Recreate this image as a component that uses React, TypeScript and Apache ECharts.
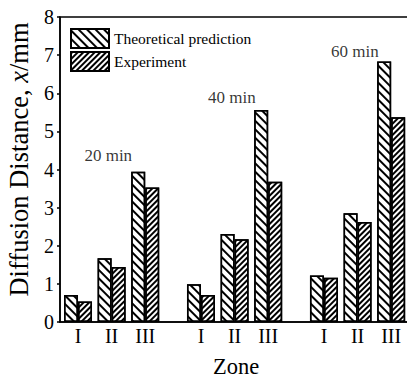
import React, { useEffect, useRef } from "react";
import * as echarts from "echarts";

const zones = ["I", "II", "III", "I", "II", "III", "I", "II", "III"];
// positions of the zone slots along the x axis (data units; one slot = 1)
const zonePositions = [1, 2, 3, 4.66, 5.66, 6.66, 8.32, 9.32, 10.32];
const theoretical = [0.71, 1.67, 3.94, 0.99, 2.31, 5.56, 1.22, 2.85, 6.83];
const experiment = [0.54, 1.44, 3.53, 0.71, 2.17, 3.68, 1.16, 2.62, 5.37];
const groupNames = ["20 min", "40 min", "60 min"];
const groupLabelX = [1.9, 5.58, 9.24];
const groupLabelY = [4.38, 5.9, 7.09];
const yTicks = [0, 1, 2, 3, 4, 5, 6, 7, 8];

const FONT = "Liberation Serif";

export default function App() {
  const ref = useRef<HTMLDivElement>(null);
  useEffect(() => {
    if (!ref.current) return;
    const chart = echarts.init(ref.current, undefined, { renderer: "svg" });
    const option: any = {
      animation: false,
      backgroundColor: "#fff",
      textStyle: { fontFamily: FONT, color: "#000" },
      grid: {
        left: 60,
        top: 17,
        right: -5,
        bottom: 56,
        containLabel: false,
        outerBoundsMode: "none",
        show: true,
        borderColor: "#000",
        borderWidth: 1.5,
        backgroundColor: "transparent",
      },
      legend: {
        data: ["Theoretical prediction", "Experiment"],
        orient: "vertical",
        left: 70,
        top: 28,
        padding: 0,
        itemWidth: 38,
        itemHeight: 19,
        itemGap: 2,
        icon: "rect",
        textStyle: {
          fontFamily: FONT,
          fontSize: 15.5,
          color: "#000",
        },
      },
      xAxis: {
        type: "value",
        min: 0.464,
        max: 10.94,
        name: "Zone",
        nameLocation: "middle",
        nameGap: 33,
        nameTextStyle: { fontFamily: FONT, fontSize: 22.5, color: "#000" },
        axisLine: { show: true, onZero: false, lineStyle: { color: "#000", width: 1.5 } },
        axisTick: { show: false },
        splitLine: { show: false },
        axisLabel: {
          customValues: zonePositions,
          formatter: (v: number) => {
            const i = zonePositions.findIndex((p) => Math.abs(p - v) < 1e-6);
            return i >= 0 ? zones[i] : "";
          },
          fontFamily: FONT,
          fontSize: 20,
          color: "#000",
          margin: 4,
        },
      },
      yAxis: {
        type: "value",
        min: 0,
        max: 8,
        interval: 1,
        name: "Diffusion Distance, {i|x}/mm",
        nameLocation: "middle",
        nameGap: 28,
        nameTextStyle: {
          fontFamily: FONT,
          fontSize: 26.5,
          color: "#000",
          padding: [0, 0, 0, 20],
          rich: { i: { fontFamily: FONT, fontSize: 26.5, fontStyle: "italic", color: "#000" } },
        },
        axisLine: { show: true, lineStyle: { color: "#000", width: 1.5 } },
        axisTick: { show: true, inside: false, length: 3, lineStyle: { color: "#000", width: 1.5 } },
        splitLine: { show: false },
        axisLabel: {
          fontFamily: FONT,
          fontSize: 20,
          color: "#000",
          margin: 6,
          formatter: (v: number) => (yTicks.includes(v) ? String(v) : ""),
        },
      },
      series: [
        {
          name: "Theoretical prediction",
          type: "bar",
          barWidth: 14,
          barGap: "0%",
          data: zonePositions.map((p, i) => [p, theoretical[i]]),
          itemStyle: {
            color: "#fff",
            borderColor: "#000",
            borderWidth: 1.5,
            decal: {
              symbol: "rect",
              symbolSize: 1,
              color: "#000",
              dashArrayX: [1, 0],
              dashArrayY: [1.8, 3.8],
              rotation: Math.PI / 4,
            },
          },
        },
        {
          name: "Experiment",
          type: "bar",
          barWidth: 14,
          barGap: "0%",
          data: zonePositions.map((p, i) => [p, experiment[i]]),
          itemStyle: {
            color: "#fff",
            borderColor: "#000",
            borderWidth: 1.5,
            decal: {
              symbol: "rect",
              symbolSize: 1,
              color: "#000",
              dashArrayX: [1, 0],
              dashArrayY: [1.5, 1.1],
              rotation: -Math.PI / 4,
            },
          },
        },
        {
          name: "groups",
          type: "scatter",
          symbolSize: 1,
          itemStyle: { color: "transparent" },
          data: groupNames.map((n, i) => ({ value: [groupLabelX[i], groupLabelY[i]], name: n })),
          label: {
            show: true,
            position: "inside",
            formatter: (p: any) => p.name,
            fontFamily: FONT,
            fontSize: 17,
            color: "#000",
          },
          silent: true,
        },
      ],
    };
    chart.setOption(option);
    return () => chart.dispose();
  }, []);
  return (
    <div
      ref={ref}
      style={{ position: "fixed", left: 0, top: 0, width: 407, height: 378 }}
    />
  );
}
